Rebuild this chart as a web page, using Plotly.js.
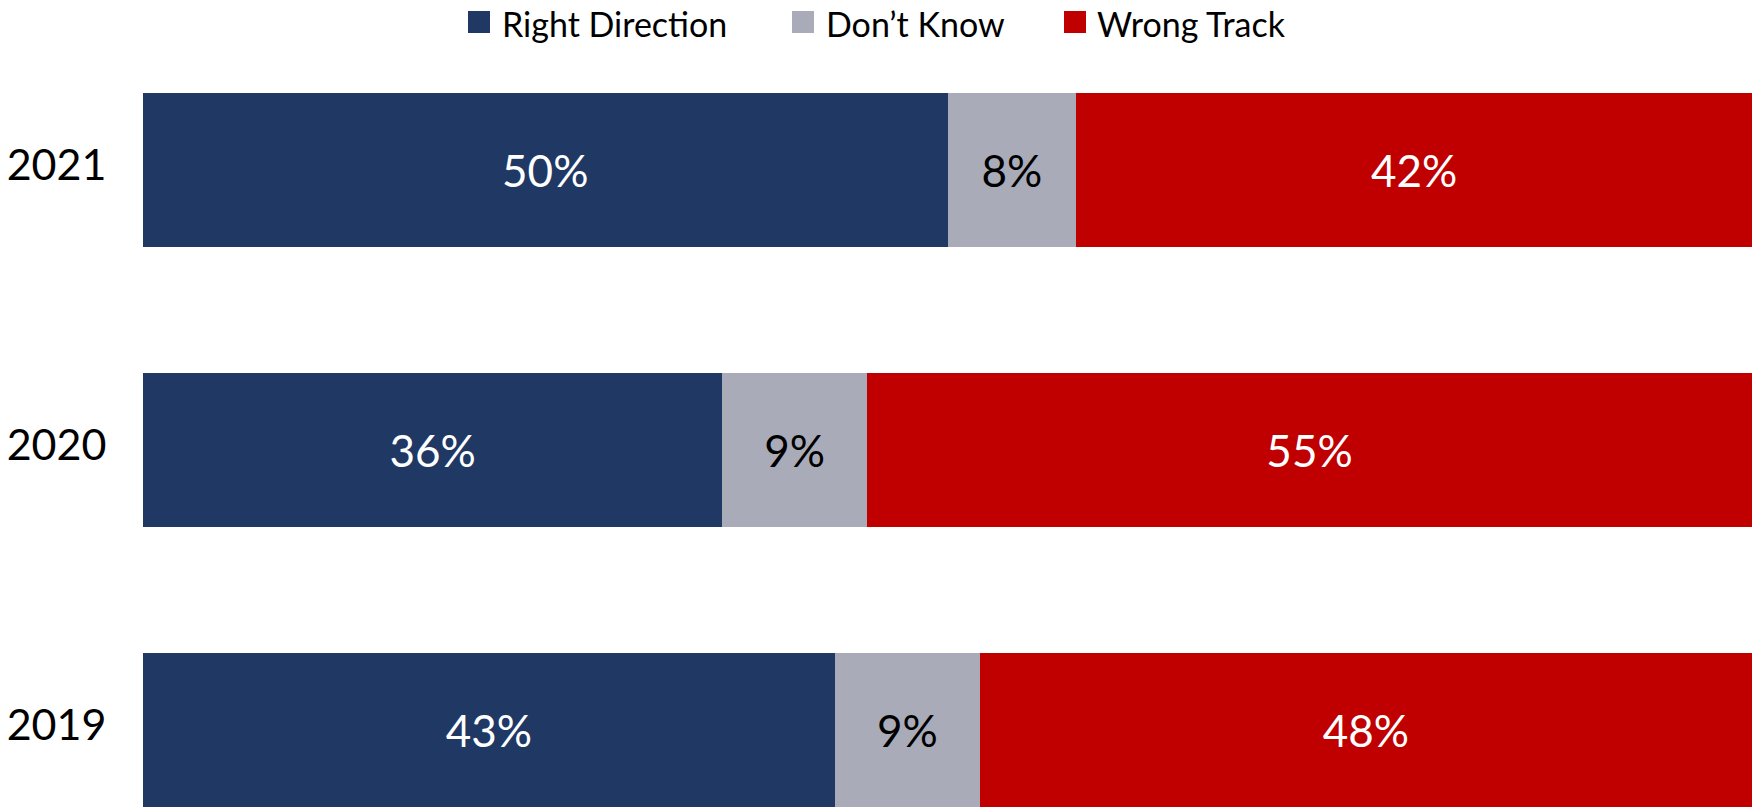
<!DOCTYPE html>
<html>
<head>
<meta charset="utf-8">
<script src="https://cdn.plot.ly/plotly-3.0.1.min.js"></script>
<style>html,body{margin:0;padding:0;background:#fff;}#chart{width:1754px;height:807px;}</style>
</head>
<body>
<div id="chart"></div>
<script>
// ---- data ----
var years = ['2019', '2020', '2021'];
var seriesNames = ['Right Direction', 'Don\u2019t Know', 'Wrong Track'];
var rightDirection = [43, 36, 50];
var dontKnow = [9, 9, 8];
var wrongTrack = [48, 55, 42];

// ---- styles ----
var colors = ['#1F3864', '#A9ABB8', '#C00000'];
var textColors = ['#FFFFFF', '#000000', '#FFFFFF'];
var FONT = 'Lato, "Open Sans", sans-serif';

var W = 1754, H = 807;
var M = {l: 143, r: 2, t: 30, b: 0};
var plotW = W - M.l - M.r, plotH = H - M.t - M.b;
function px2x(px) { return (px - M.l) / plotW; }
function px2y(py) { return (H - M.b - py) / plotH; }

var values = [rightDirection, dontKnow, wrongTrack];
var traces = values.map(function (vals, i) {
  return {
    type: 'bar',
    orientation: 'h',
    name: seriesNames[i],
    y: years,
    x: vals,
    marker: {color: colors[i], line: {width: 0}},
    text: vals.map(function (v) { return v + '%'; }),
    textposition: 'inside',
    insidetextanchor: 'middle',
    constraintext: 'none',
    textfont: {family: FONT, size: 44, color: textColors[i]},
    showlegend: false,
    hoverinfo: 'none'
  };
});

// custom legend (square + label), positions in pixels
var legendSquareX = [468, 792, 1064];
var legendTextX = [500, 824, 1095];
var shapes = [], annotations = [];
seriesNames.forEach(function (n, i) {
  shapes.push({
    type: 'rect', xref: 'paper', yref: 'paper',
    x0: px2x(legendSquareX[i]), x1: px2x(legendSquareX[i] + 22),
    y0: px2y(33), y1: px2y(11),
    fillcolor: colors[i], line: {width: 0}
  });
  annotations.push({
    xref: 'paper', yref: 'paper', x: px2x(legendTextX[i]), y: px2y(23),
    xanchor: 'left', yanchor: 'middle', showarrow: false,
    text: n, font: {family: FONT, size: 34, color: '#000000'}
  });
});

var layout = {
  width: W, height: H,
  margin: M,
  barmode: 'stack',
  bargap: 0.45,
  showlegend: false,
  paper_bgcolor: '#FFFFFF',
  plot_bgcolor: '#FFFFFF',
  font: {family: FONT, color: '#000000'},
  xaxis: {range: [0, 100], showgrid: false, zeroline: false, showticklabels: false, showline: false, fixedrange: true},
  yaxis: {
    type: 'category', range: [-0.275, 2.5], showgrid: false, zeroline: false, showline: false,
    ticks: 'outside', ticklen: 27, tickcolor: 'rgba(0,0,0,0)',
    ticklabelshift: -5,
    tickfont: {family: FONT, size: 43, color: '#000000'},
    fixedrange: true
  },
  shapes: shapes,
  annotations: annotations
};

Plotly.newPlot('chart', traces, layout, {displayModeBar: false, staticPlot: true});
</script>
</body>
</html>
